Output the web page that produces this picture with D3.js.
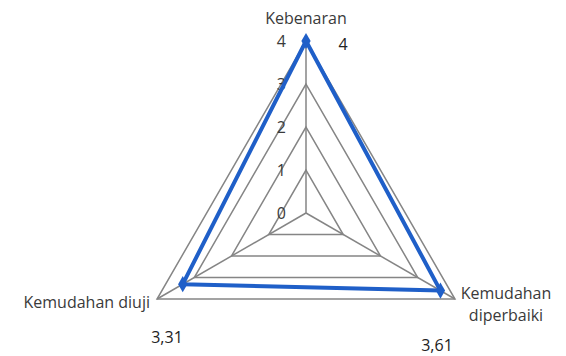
<!DOCTYPE html>
<html>
<head>
<meta charset="utf-8">
<script src="https://cdn.jsdelivr.net/npm/d3@7"></script>
<style>
  body { margin: 0; background: #fff; }
  text { font-family: "Open Sans", "Liberation Sans", sans-serif; fill: #3a3a3a; }
</style>
</head>
<body>
<svg width="566" height="356"></svg>
<script>
// chart data
var categories = ["Kebenaran", "Kemudahan diperbaiki", "Kemudahan diuji"];
var values = [4, 3.61, 3.31];
var valueLabels = ["4", "3,61", "3,31"];
var ticks = [0, 1, 2, 3, 4];

var svg = d3.select("svg");
var cx = 306, cy = 213;

var r = d3.scaleLinear().domain([0, 4]).range([0, 172]);
var angle = d3.scalePoint().domain(d3.range(categories.length)).range([0, Math.PI * 2 * 2 / 3]);

function pt(i, v){
    var a = angle(i) - Math.PI / 2;
    return [cx + Math.cos(a) * r(v), cy + Math.sin(a) * r(v)];
}

var g = svg.append("g");

// grid rings
ticks.slice(1).forEach(function(t){
    g.append("polygon")
        .attr("points", categories.map(function(c, i){ return pt(i, t).join(","); }).join(" "))
        .attr("fill", "none")
        .attr("stroke", "#858585")
        .attr("stroke-width", 1.5);
});

// spokes
categories.forEach(function(c, i){
    var p = pt(i, 4);
    g.append("line")
        .attr("x1", cx).attr("y1", cy)
        .attr("x2", p[0]).attr("y2", p[1])
        .attr("stroke", "#858585")
        .attr("stroke-width", 1.5);
});

// tick labels
ticks.forEach(function(t){
    g.append("text")
        .attr("x", cx - 20)
        .attr("y", cy - r(t) + 6)
        .attr("text-anchor", "end")
        .attr("font-size", 16)
        .text(t);
});

// data line
var line = d3.line().curve(d3.curveLinearClosed);
var pts = values.map(function(v, i){ return pt(i, v); });

g.append("path")
    .attr("d", line(pts))
    .attr("fill", "none")
    .attr("stroke", "#1f5fc8")
    .attr("stroke-width", 4)
    .attr("stroke-linejoin", "round");

g.selectAll("path.marker")
    .data(pts)
    .enter()
    .append("path")
    .attr("class", "marker")
    .attr("d", d3.symbol().type(d3.symbolDiamond).size(75))
    .attr("transform", function(d){ return "translate(" + d[0] + "," + d[1] + ")"; })
    .attr("fill", "#1f5fc8");

// category labels
g.append("text").attr("x", cx).attr("y", 24).attr("text-anchor", "middle")
    .attr("font-size", 16).text(categories[0]);

var lab = g.append("text").attr("x", 506).attr("y", 299).attr("text-anchor", "middle").attr("font-size", 16);
lab.append("tspan").attr("x", 506).text("Kemudahan");
lab.append("tspan").attr("x", 506).attr("dy", 22).text("diperbaiki");

g.append("text").attr("x", 150).attr("y", 308).attr("text-anchor", "end")
    .attr("font-size", 16).text(categories[2]);

// value labels
var valuePos = [[343, 50], [437, 351], [167, 343]];
valueLabels.forEach(function(v, i){
    g.append("text")
        .attr("x", valuePos[i][0])
        .attr("y", valuePos[i][1])
        .attr("text-anchor", "middle")
        .attr("font-size", 16)
        .style("fill", "#222")
        .text(v);
});
</script>
</body>
</html>
